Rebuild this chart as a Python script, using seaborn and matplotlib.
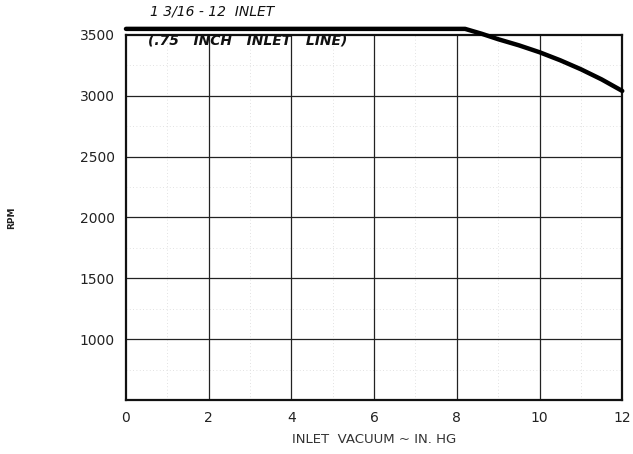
"""RPM vs inlet vacuum curve (1 3/16-12 inlet)."""

import matplotlib
matplotlib.use("Agg")
import matplotlib.pyplot as plt
import pandas as pd
import seaborn as sns

# curve
VACUUM = [0, 8.2, 8.6, 9, 9.5, 10, 10.5, 11, 11.5, 12]
RPM = [3550, 3550, 3510, 3465, 3415, 3358, 3292, 3218, 3135, 3040]

X_TICKS = [0, 2, 4, 6, 8, 10, 12]
Y_TICKS = [1000, 1500, 2000, 2500, 3000, 3500]


def main():
    sns.set_theme(style="white")
    plt.rcParams["font.family"] = ["DejaVu Sans"]

    df = pd.DataFrame({"vacuum": VACUUM, "rpm": RPM})

    fig = plt.figure(figsize=(6.33, 4.54), dpi=100)
    ax = fig.add_axes([0.199, 0.119, 0.784, 0.804])

    # faint minor grid, then main grid
    for v in [1, 3, 5, 7, 9, 11]:
        ax.axvline(v, color="#d8d8d8", lw=0.6, ls=(0, (1, 3)), zorder=0)
    for v in [750, 1250, 1750, 2250, 2750, 3250]:
        ax.axhline(v, color="#d8d8d8", lw=0.6, ls=(0, (1, 3)), zorder=0)
    for v in X_TICKS[1:-1]:
        ax.axvline(v, color="#222222", lw=0.9, zorder=1)
    for v in Y_TICKS[:-1]:
        ax.axhline(v, color="#222222", lw=0.9, zorder=1)

    sns.lineplot(data=df, x="vacuum", y="rpm", ax=ax, color="black",
                 lw=3.2, clip_on=False, zorder=5)

    ax.set_xlim(0, 12)
    ax.set_ylim(500, 3500)
    ax.set_xticks(X_TICKS)
    ax.set_yticks(Y_TICKS)
    ax.tick_params(axis="both", labelsize=10, colors="#222222", length=0, pad=8)
    for s in ax.spines.values():
        s.set_color("#111111")
        s.set_linewidth(1.6)

    ax.set_xlabel("INLET  VACUUM ~ IN. HG", fontsize=9.5, color="#333333", labelpad=6)
    ax.set_ylabel("RPM", fontsize=6.5, color="#222222", labelpad=46,
                  fontweight="bold")

    ax.text(0.58, 3690, "1 3/16 - 12  INLET", fontsize=10, style="italic",
            color="#111111", va="center", clip_on=False)
    ax.text(0.53, 3455, "(.75   INCH   INLET   LINE)", fontsize=10, style="italic",
            color="#111111", va="center", fontweight="bold", clip_on=False)

    fig.savefig("out.png", dpi=100)
    plt.close(fig)


if __name__ == "__main__":
    main()
